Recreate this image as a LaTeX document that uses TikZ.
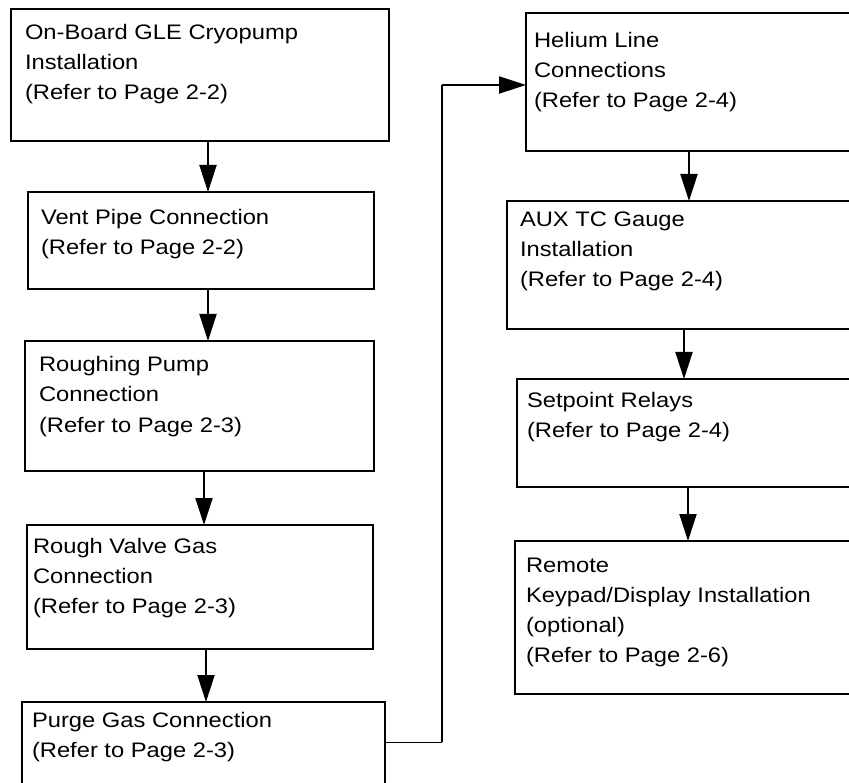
\documentclass[tikz,border=0pt]{standalone}
\usepackage{fontspec}
\setmainfont{Liberation Sans}[FakeStretch=1.13]
\usetikzlibrary{arrows.meta}
\begin{document}
\begin{tikzpicture}[x=1pt,y=-1pt,
  box/.style={draw,line width=2pt,inner sep=0pt,outer sep=0pt,anchor=north west},
  txt/.style={anchor=north west,inner sep=0pt,outer sep=0pt,align=left,font=\fontsize{21}{30}\selectfont},
  arr/.style={line width=2pt,-{Triangle[length=27pt,width=17pt]}},
  link/.style={line width=2pt},
  thinlink/.style={line width=1pt}]
\useasboundingbox (0,0) rectangle (849,783);
\clip (0,0) rectangle (849,783);
% left column
\node[box,minimum width=378pt,minimum height=132pt] (B1) at (11,9) {};
\node[box,minimum width=346pt,minimum height=97pt] (B2) at (28,192) {};
\node[box,minimum width=349pt,minimum height=130pt] (B3) at (25,341) {};
\node[box,minimum width=346pt,minimum height=124pt] (B4) at (27,525) {};
\node[box,minimum width=363pt,minimum height=120pt] (B5) at (22,702) {};
% right column
\node[box,minimum width=400pt,minimum height=138pt] (H) at (526,13) {};
\node[box,minimum width=420pt,minimum height=128pt] (A) at (507,201) {};
\node[box,minimum width=410pt,minimum height=108pt] (S) at (517,379) {};
\node[box,minimum width=410pt,minimum height=153pt] (R) at (515,541) {};
% texts
\node[txt] (T1) at (25,19) {\strut On-Board GLE Cryopump\\Installation\\(Refer to Page 2-2)};
\node[txt] (T2) at (41,204) {\strut Vent Pipe Connection\\(Refer to Page 2-2)};
\node[txt] (T3) at (39,351) {\strut Roughing Pump\\Connection\\(Refer to Page 2-3)};
\node[txt] (T4) at (33,532) {\strut Rough Valve Gas\\Connection\\(Refer to Page 2-3)};
\node[txt] (T5) at (32,706) {\strut Purge Gas Connection\\(Refer to Page 2-3)};
\node[txt] (TH) at (534,27) {\strut Helium Line\\Connections\\(Refer to Page 2-4)};
\node[txt] (TA) at (520,206) {\strut AUX TC Gauge\\Installation\\(Refer to Page 2-4)};
\node[txt] (TS) at (527,387) {\strut Setpoint Relays\\(Refer to Page 2-4)};
\node[txt] (TR) at (526,551) {\strut Remote\\Keypad/Display Installation\\(optional)\\(Refer to Page 2-6)};
% arrows
\draw[arr] ([xshift=197pt]B1.south west) -- ([xshift=180pt]B2.north west);
\draw[arr] ([xshift=180pt]B2.south west) -- ([xshift=183pt]B3.north west);
\draw[arr] ([xshift=179pt]B3.south west) -- ([xshift=177pt]B4.north west);
\draw[arr] ([xshift=179pt]B4.south west) -- ([xshift=184pt]B5.north west);
\draw[arr] ([xshift=163pt]H.south west) -- ([xshift=182pt]A.north west);
\draw[arr] ([xshift=177pt]A.south west) -- ([xshift=167pt]S.north west);
\draw[arr] ([xshift=171pt]S.south west) -- ([xshift=173pt]R.north west);
% loop connector
\coordinate (J) at (442,742);
\coordinate (K) at (442,85);
\draw[thinlink] ([yshift=-40pt]B5.north east) -- (J);
\draw[link] (J) -- (K);
\draw[arr] (K) -- ([yshift=-72pt]H.north west);
\end{tikzpicture}
\end{document}
